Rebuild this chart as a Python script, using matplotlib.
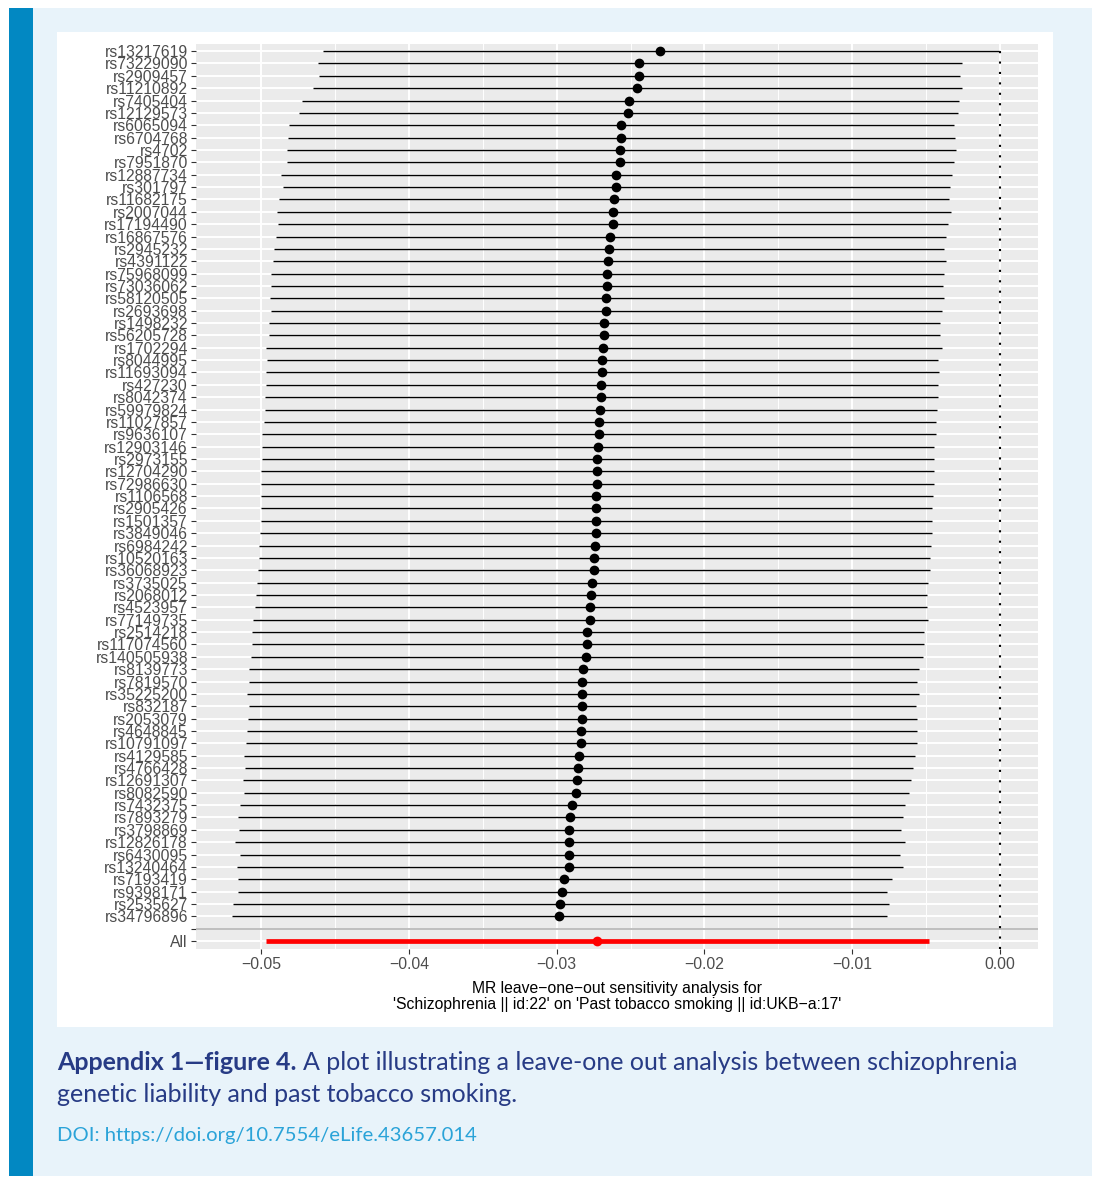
import matplotlib
matplotlib.use("Agg")
import matplotlib.pyplot as plt
from matplotlib.patches import Rectangle

# leave-one-out results, top row first
snps = ["rs13217619", "rs73229090", "rs2909457", "rs11210892", "rs7405404", "rs12129573",
        "rs6065094", "rs6704768", "rs4702", "rs7951870", "rs12887734", "rs301797",
        "rs11682175", "rs2007044", "rs17194490", "rs16867576", "rs2945232", "rs4391122",
        "rs75968099", "rs73036062", "rs58120505", "rs2693698", "rs1498232", "rs56205728",
        "rs1702294", "rs8044995", "rs11693094", "rs427230", "rs8042374", "rs59979824",
        "rs11027857", "rs9636107", "rs12903146", "rs2973155", "rs12704290", "rs72986630",
        "rs1106568", "rs2905426", "rs1501357", "rs3849046", "rs6984242", "rs10520163",
        "rs36068923", "rs3735025", "rs2068012", "rs4523957", "rs77149735", "rs2514218",
        "rs117074560", "rs140505938", "rs8139773", "rs7819570", "rs35225200", "rs832187",
        "rs2053079", "rs4648845", "rs10791097", "rs4129585", "rs4766428", "rs12691307",
        "rs8082590", "rs7432375", "rs7893279", "rs3798869", "rs12826178", "rs6430095",
        "rs13240464", "rs7193419", "rs9398171", "rs2535627", "rs34796896"]

b = [-0.02298, -0.02441, -0.02446, -0.02459, -0.02507, -0.02514, -0.02566, -0.02566,
     -0.02568, -0.02570, -0.02597, -0.02600, -0.02611, -0.02618, -0.02620, -0.02638,
     -0.02647, -0.02650, -0.02656, -0.02659, -0.02663, -0.02665, -0.02677, -0.02679,
     -0.02686, -0.02692, -0.02695, -0.02697, -0.02701, -0.02706, -0.02711, -0.02715,
     -0.02720, -0.02724, -0.02726, -0.02729, -0.02731, -0.02731, -0.02733, -0.02735,
     -0.02740, -0.02747, -0.02749, -0.02763, -0.02770, -0.02774, -0.02776, -0.02792,
     -0.02794, -0.02799, -0.02822, -0.02826, -0.02826, -0.02831, -0.02831, -0.02833,
     -0.02837, -0.02851, -0.02853, -0.02865, -0.02869, -0.02896, -0.02910, -0.02914,
     -0.02916, -0.02916, -0.02916, -0.02948, -0.02966, -0.02978, -0.02982]

lo = [-0.04579, -0.04617, -0.04610, -0.04651, -0.04724, -0.04740, -0.04812, -0.04819,
      -0.04826, -0.04821, -0.04862, -0.04853, -0.04878, -0.04894, -0.04885, -0.04900,
      -0.04909, -0.04920, -0.04930, -0.04930, -0.04937, -0.04932, -0.04943, -0.04946,
      -0.04968, -0.04957, -0.04963, -0.04963, -0.04975, -0.04975, -0.04980, -0.04991,
      -0.04993, -0.04995, -0.04998, -0.05002, -0.05000, -0.05002, -0.05002, -0.05007,
      -0.05011, -0.05016, -0.05020, -0.05027, -0.05032, -0.05039, -0.05054, -0.05061,
      -0.05061, -0.05066, -0.05084, -0.05079, -0.05093, -0.05084, -0.05088, -0.05095,
      -0.05102, -0.05118, -0.05109, -0.05122, -0.05115, -0.05143, -0.05154, -0.05149,
      -0.05177, -0.05145, -0.05163, -0.05156, -0.05158, -0.05193, -0.05197]

hi = [-0.00009, -0.00254, -0.00272, -0.00254, -0.00276, -0.00281, -0.00308, -0.00306,
      -0.00301, -0.00312, -0.00324, -0.00340, -0.00342, -0.00333, -0.00349, -0.00367,
      -0.00380, -0.00367, -0.00380, -0.00383, -0.00380, -0.00394, -0.00403, -0.00408,
      -0.00394, -0.00421, -0.00414, -0.00417, -0.00421, -0.00428, -0.00433, -0.00435,
      -0.00444, -0.00448, -0.00450, -0.00450, -0.00455, -0.00457, -0.00460, -0.00462,
      -0.00464, -0.00473, -0.00471, -0.00489, -0.00496, -0.00496, -0.00489, -0.00516,
      -0.00516, -0.00523, -0.00548, -0.00559, -0.00548, -0.00566, -0.00564, -0.00559,
      -0.00564, -0.00577, -0.00586, -0.00605, -0.00616, -0.00641, -0.00657, -0.00673,
      -0.00645, -0.00679, -0.00659, -0.00729, -0.00763, -0.00749, -0.00763]

all_b = -0.02729
all_lo = -0.04968
all_hi = -0.00480

xticks = [-0.05, -0.04, -0.03, -0.02, -0.01, 0.00]
xticklabels = ["\u22120.05", "\u22120.04", "\u22120.03", "\u22120.02", "\u22120.01", "0.00"]
xminor = [-0.045, -0.035, -0.025, -0.015, -0.005]
xlab = ("MR leave\u2212one\u2212out sensitivity analysis for\n"
        "'Schizophrenia || id:22' on 'Past tobacco smoking || id:UKB\u2212a:17'")

W, H = 1097, 1178
fig = plt.figure(figsize=(W / 100, H / 100), dpi=100)
fig.patch.set_facecolor("white")

def box(x0, y0, x1, y1, color):
    fig.patches.append(Rectangle((x0 / W, 1 - y1 / H), (x1 - x0) / W, (y1 - y0) / H,
                                 transform=fig.transFigure, facecolor=color,
                                 edgecolor="none", zorder=-5))

box(9, 8, 1092, 1176, "#e8f3fa")
box(9, 8, 33, 1176, "#0288c2")
box(57, 32, 1053, 1027, "white")

ax = fig.add_axes([196 / W, 1 - 948.5 / H, (1038 - 196) / W, (948.5 - 43.7) / H])
ax.set_facecolor("#ebebeb")
for s in ax.spines.values():
    s.set_visible(False)

n = len(snps)
ys = list(range(1, n + 1))
blank_y = n + 1
all_y = n + 2

ax.hlines(ys, lo, hi, color="black", linewidth=1.0, zorder=3)
ax.plot(b, ys, "o", color="black", markersize=6, zorder=4)
ax.hlines([all_y], [all_lo], [all_hi], color="red", linewidth=3.4, zorder=3)
ax.plot([all_b], [all_y], "o", color="red", markersize=6, zorder=4)
ax.axvline(0, color="black", linewidth=1.5, linestyle=(0, (1, 4)), zorder=3)
ax.axhline(blank_y, color="#bebebe", linewidth=1.4, zorder=2)

ax.set_yticks(ys + [blank_y, all_y])
ax.set_yticklabels(snps + ["", "All"])
ax.set_xticks(xticks)
ax.set_xticklabels(xticklabels)
ax.set_xticks(xminor, minor=True)
ax.set_xlim(-0.0544, 0.00257)
ax.set_ylim(all_y + 0.6, 0.4)

ax.grid(which="major", color="white", linewidth=1.4, zorder=1)
ax.grid(which="minor", axis="x", color="white", linewidth=0.7, zorder=1)
ax.set_axisbelow(True)
ax.tick_params(which="major", length=3.6, width=0.8, color="#333333", labelcolor="#4d4d4d",
               labelsize=11.3, pad=2.2)
ax.tick_params(which="minor", length=0)
for t in ax.get_xticklabels() + ax.get_yticklabels():
    t.set_fontfamily("Liberation Sans")

ax.set_xlabel(xlab, fontsize=11.3, family="Liberation Sans", color="black",
              linespacing=1.05, labelpad=7)

# caption
fig.canvas.draw()
r = fig.canvas.get_renderer()
cap_color = "#273b85"
y1 = 1 - 1063 / H
t = fig.text(57 / W, y1, "Appendix 1\u2014figure 4.", family="Lato", fontweight="bold",
             fontsize=18, color=cap_color, va="center")
bb = t.get_window_extent(renderer=r)
fig.text(bb.x1 / W + 6 / W, y1,
         "A plot illustrating a leave-one out analysis between schizophrenia",
         family="Lato", fontsize=18, color=cap_color, va="center")
fig.text(57 / W, 1 - 1095 / H, "genetic liability and past tobacco smoking.",
         family="Lato", fontsize=18, color=cap_color, va="center")
fig.text(57 / W, 1 - 1135 / H, "DOI: https://doi.org/10.7554/eLife.43657.014",
         family="Lato", fontsize=14.6, color="#2aa3d8", va="center")

fig.savefig("out.png", dpi=100)
